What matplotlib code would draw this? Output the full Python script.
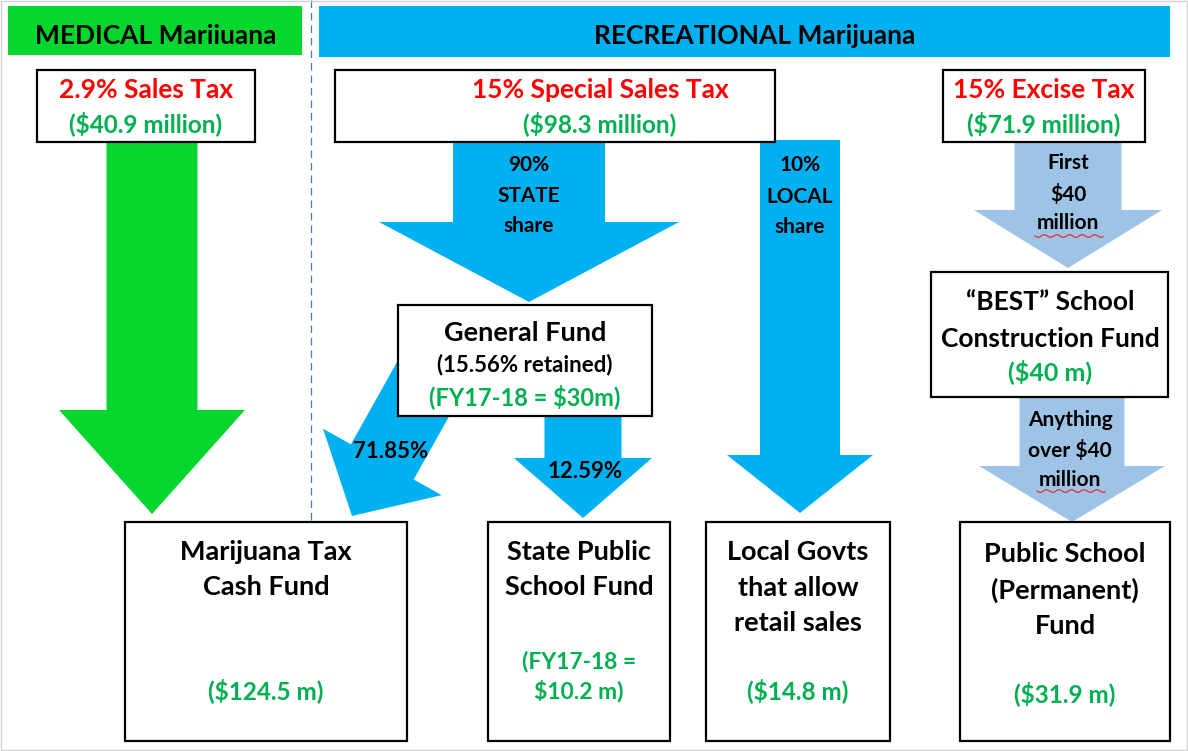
import numpy as np
import matplotlib
matplotlib.use("Agg")
import matplotlib.pyplot as plt
from matplotlib.patches import Rectangle, Polygon

plt.rcParams['font.family'] = ['Lato', 'DejaVu Sans']

# chart content
headers = ['MEDICAL Mariiuana', 'RECREATIONAL Marijuana']
tax_names = ['2.9% Sales Tax', '15% Special Sales Tax', '15% Excise Tax']
tax_amounts = ['($40.9 million)', '($98.3 million)', '($71.9 million)']
split_labels = ['90%\nSTATE\nshare', '10%\nLOCAL\nshare']
gf_lines = ['General Fund', '(15.56% retained)', '(FY17-18 = $30m)']
gf_shares = ['71.85%', '12.59%']
best_lines = ['\u201cBEST\u201d School\nConstruction Fund', '($40 m)']
excise_flow = ['First\n$40\nmillion', 'Anything\nover $40\nmillion']
fund_names = ['Marijuana Tax\nCash Fund', 'State Public\nSchool Fund',
              'Local Govts\nthat allow\nretail sales', 'Public School\n(Permanent)\nFund']
fund_amounts = ['($124.5 m)', '(FY17-18 =\n$10.2 m)', '($14.8 m)', '($31.9 m)']

GREEN_BAR = '#06D72F'
BLUE = '#00B0F0'
LIGHT = '#9DC3E6'
RED = '#FF0000'
GTXT = '#00B050'

fig = plt.figure(figsize=(11.88, 7.51), dpi=100)
ax = fig.add_axes([0, 0, 1, 1])
ax.set_xlim(0, 1188)
ax.set_ylim(751, 0)
ax.axis('off')


def arrow(start, end, shaft_w, head_w, head_len, color):
    s = np.array(start, float)
    e = np.array(end, float)
    d = (e - s) / np.linalg.norm(e - s)
    n = np.array([-d[1], d[0]])
    b = e - d * head_len
    pts = [s + n * shaft_w / 2, b + n * shaft_w / 2, b + n * head_w / 2, e,
           b - n * head_w / 2, b - n * shaft_w / 2, s - n * shaft_w / 2]
    ax.add_patch(Polygon(pts, closed=True, facecolor=color, edgecolor='none', zorder=1))


def box(x0, y0, x1, y1):
    ax.add_patch(Rectangle((x0, y0), x1 - x0, y1 - y0, facecolor='white',
                           edgecolor='black', lw=1.6, zorder=3))


def txt(x, ys, s, color='black', size=19):
    # one text per line, each at its own height
    for y, line in zip(ys, s.split('\n')):
        ax.text(x, y, line, color=color, fontsize=size, fontweight='bold',
                ha='center', va='center', zorder=5)


def squiggle(x0, x1, y):
    xs = np.linspace(x0, x1, 80)
    ax.plot(xs, y + 1.3 * np.sin((xs - x0) / 2.0), color='#E03030', lw=0.9, zorder=6)


# headers
ax.add_patch(Rectangle((8, 6), 294, 49, facecolor=GREEN_BAR, edgecolor='none'))
ax.add_patch(Rectangle((319, 6), 851, 51, facecolor=BLUE, edgecolor='none'))
txt(156, [36], headers[0], size=19)
txt(755, [36], headers[1], size=19)
ax.plot([311, 311], [0, 520], color='#4A78C8', lw=0.9, ls=(0, (6, 4)), zorder=0)

# arrows
arrow((152, 140), (152, 514), 91, 186, 104, GREEN_BAR)
arrow((529, 140), (529, 302), 152, 300, 80, BLUE)
arrow((800, 140), (800, 513), 80, 146, 58, BLUE)
arrow((1068, 138), (1068, 268), 107, 188, 58, LIGHT)
arrow((1072, 392), (1072, 522), 105, 186, 56, LIGHT)
arrow((583, 410), (583, 518), 77, 138, 60, BLUE)
arrow((445, 350), (352, 516), 72, 136, 62, BLUE)

# top tax boxes
tax_x = [(37, 255), (335, 775), (943, 1145)]
tax_cx = [146, 600, 1044]
for (x0, x1), cx, name, amt in zip(tax_x, tax_cx, tax_names, tax_amounts):
    box(x0, 70, x1, 142)
    txt(cx, [90], name, color=RED, size=19)
    txt(cx, [124], amt, color=GTXT, size=17.5)

# split labels inside arrows
txt(529, [165, 196, 226], split_labels[0], size=15)
txt(800, [165, 197, 227], split_labels[1], size=15)
txt(1068, [163, 194, 223], excise_flow[0], size=15)
txt(1070, [420, 450, 480], excise_flow[1], size=15)
squiggle(1035, 1103, 236)
squiggle(1037, 1105, 491)

# general fund
box(398, 305, 652, 416)
txt(525, [333], gf_lines[0], size=19.5)
txt(525, [365], gf_lines[1], size=16)
txt(525, [397], gf_lines[2], color=GTXT, size=17)
txt(391, [451], gf_shares[0], size=16)
txt(585, [471], gf_shares[1], size=16)

# BEST fund
box(931, 272, 1168, 397)
txt(1050, [302, 339], best_lines[0], size=19)
txt(1050, [372], best_lines[1], color=GTXT, size=18)

# bottom funds
fund_x = [(125, 407), (488, 670), (706, 890), (960, 1170)]
name_y = [[552, 587], [552, 587], [552, 588, 623], [554, 590, 626]]
amt_y = [[691], [661, 691], [691], [694]]
amt_size = [17.5, 16.5, 17.5, 17.5]
for (x0, x1), name, amt, ny, ay, sz in zip(fund_x, fund_names, fund_amounts, name_y, amt_y, amt_size):
    box(x0, 522, x1, 741)
    txt((x0 + x1) / 2, ny, name, size=19.5)
    txt((x0 + x1) / 2, ay, amt, color=GTXT, size=sz)

ax.add_patch(Rectangle((1, 1), 1186, 749, facecolor='none', edgecolor='#D0D0D0', lw=1))

fig.savefig('out.png', dpi=100)
